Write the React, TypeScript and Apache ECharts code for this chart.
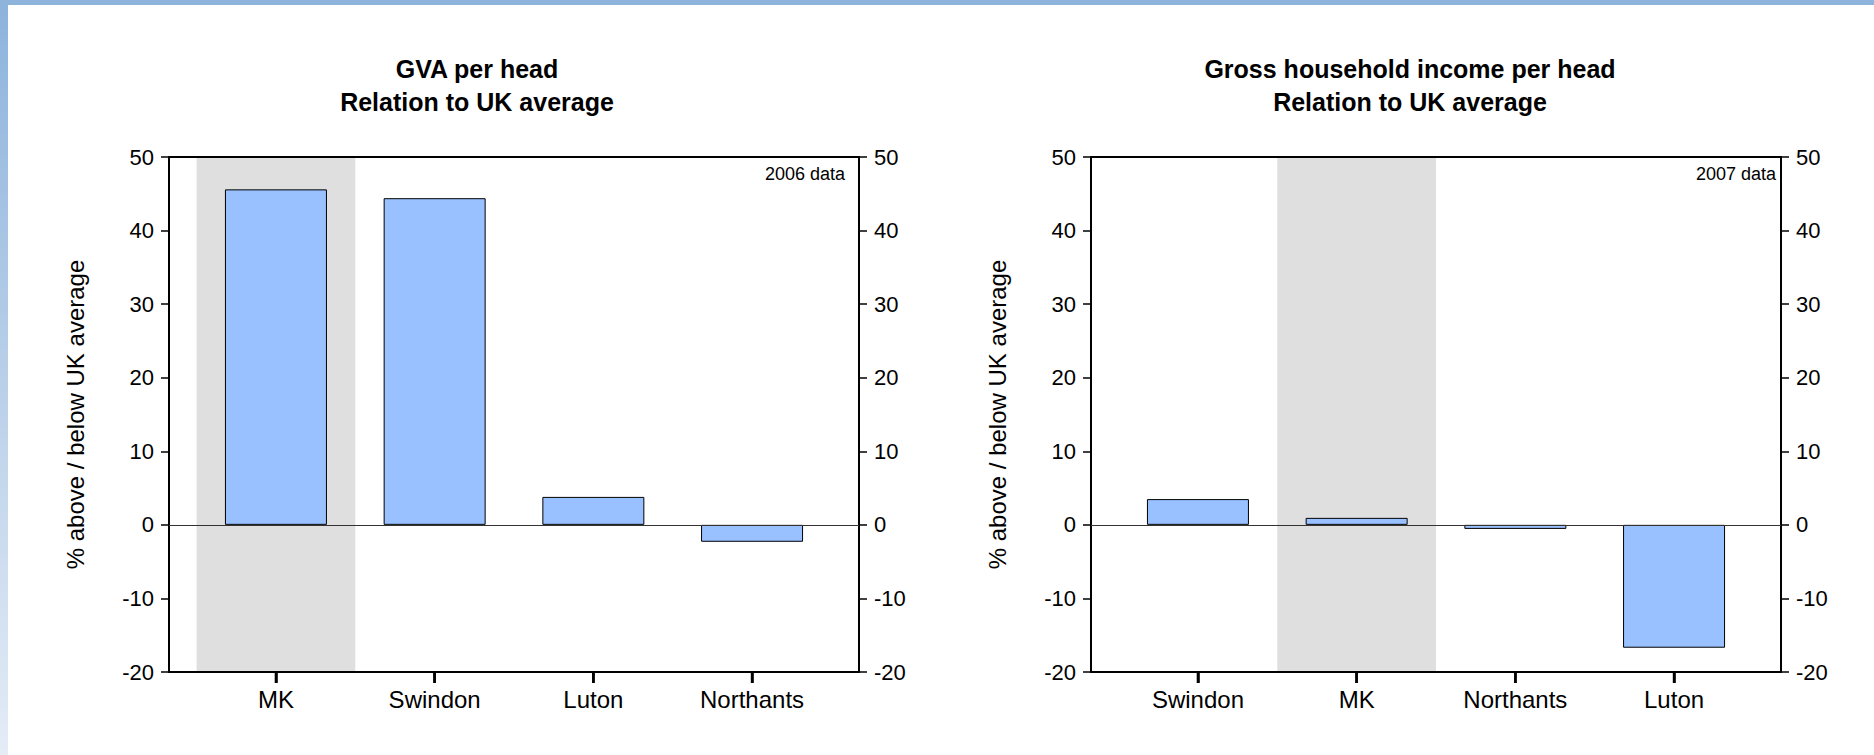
import React, { useEffect, useRef } from "react";
import * as echarts from "echarts";

// ---- data ----
const gvaCategories = ["MK", "Swindon", "Luton", "Northants"];
const gvaValues = [45.6, 44.4, 3.8, -2.3];
const gvaHighlight = "MK";
const gvaTitle = "GVA per head\nRelation to UK average";
const gvaNote = "2006 data";

const incomeCategories = ["Swindon", "MK", "Northants", "Luton"];
const incomeValues = [3.5, 0.95, -0.55, -16.7];
const incomeHighlight = "MK";
const incomeTitle = "Gross household income per head\nRelation to UK average";
const incomeNote = "2007 data";

const yMin = -20;
const yMax = 50;
const yInterval = 10;
const yName = "% above / below UK average";

const FONT = "Arial, 'Liberation Sans', Helvetica, sans-serif";
const BAR_COLOR = "#99c0ff";
const SHADE = "#dfdfdf";

type Panel = {
  frameLeft: number;
  categories: string[];
  values: number[];
  highlight: string;
};

const TOP = 157;
const BOTTOM_Y = 672;
const FRAME_W = 690;
const PAD = 27.6;
const TICK_LEN = 11;
const CAT_W = (FRAME_W - 2 * PAD) / 4;
const PAD_UNITS = PAD / CAT_W;

const panels: Panel[] = [
  { frameLeft: 169, categories: gvaCategories, values: gvaValues, highlight: gvaHighlight },
  { frameLeft: 1091, categories: incomeCategories, values: incomeValues, highlight: incomeHighlight },
];

function buildOption() {
  const grid: any[] = [];
  const xAxis: any[] = [];
  const yAxis: any[] = [];
  const series: any[] = [];

  panels.forEach((p, i) => {
    const n = p.categories.length;
    const idx = p.categories.map((_, k) => k);
    const gFrame = grid.length;
    grid.push({ left: p.frameLeft, top: TOP, width: FRAME_W, height: BOTTOM_Y - TOP, containLabel: false });
    const gData = grid.length;
    grid.push({ left: p.frameLeft + PAD, top: TOP, width: FRAME_W - 2 * PAD, height: BOTTOM_Y - TOP, containLabel: false });

    const frameLine = { show: true, onZero: false, lineStyle: { color: "#000", width: 2 } };

    const yBase = {
      type: "value", min: yMin, max: yMax, interval: yInterval,
      axisLine: frameLine,
      axisTick: { show: true, inside: false, length: 8, lineStyle: { color: "#000", width: 1.5 } },
      axisLabel: { color: "#000", fontSize: 22, fontFamily: FONT, margin: 15 },
      splitLine: { show: false },
    };
    const yLeft = yAxis.length;
    yAxis.push({
      ...yBase, gridIndex: gFrame, position: "left",
      name: yName, nameLocation: "middle", nameGap: 82,
      nameTextStyle: { color: "#000", fontSize: 24, fontFamily: FONT },
    });
    yAxis.push({ ...yBase, gridIndex: gFrame, position: "right" });
    const yData = yAxis.length;
    yAxis.push({
      gridIndex: gData, type: "value", min: yMin, max: yMax, interval: yInterval, show: false,
      splitLine: { show: false },
    });

    const xBottom = xAxis.length;
    xAxis.push({
      gridIndex: gFrame, type: "value", position: "bottom",
      min: -0.5 - PAD_UNITS, max: n - 0.5 + PAD_UNITS,
      axisLine: frameLine,
      axisTick: { show: true, inside: false, length: TICK_LEN, customValues: idx, lineStyle: { color: "#000", width: 2.5 } },
      axisLabel: {
        show: true, customValues: idx, color: "#000", fontSize: 24, fontFamily: FONT, margin: 15,
        formatter: (v: number) => {
          const k = Math.round(v);
          return Math.abs(v - k) < 1e-6 && k >= 0 && k < n ? p.categories[k] : "";
        },
      },
      splitLine: { show: false },
    });
    xAxis.push({
      gridIndex: gFrame, type: "value", min: 0, max: 1, position: "top",
      axisLine: frameLine, axisTick: { show: false }, axisLabel: { show: false }, splitLine: { show: false },
    });
    const xCat = xAxis.length;
    xAxis.push({
      gridIndex: gData, type: "category", data: p.categories, position: "bottom",
      axisLine: { show: false, onZero: false },
      axisTick: { show: false },
      axisLabel: { show: false },
      splitLine: { show: false },
      splitArea: {
        show: true, interval: 0,
        areaStyle: { color: p.categories.map((c) => (c === p.highlight ? SHADE : "rgba(255,255,255,0)")) },
      },
    });

    series.push({
      type: "line", xAxisIndex: xBottom, yAxisIndex: yLeft, data: [[0, 0]],
      showSymbol: false, symbolSize: 0, lineStyle: { width: 0, opacity: 0 }, silent: true,
      markLine: {
        silent: true, symbol: ["none", "none"], label: { show: false },
        lineStyle: { color: "#333", width: 1, type: "solid" },
        data: [{ yAxis: 0 }],
      },
      z: 3,
    });
    // category tick marks hanging below the frame, one per category position
    series.push({
      type: "scatter", xAxisIndex: xBottom, yAxisIndex: yLeft, clip: false, silent: true,
      data: idx.map((k) => [k, yMin]),
      symbol: "rect", symbolSize: [2.5, TICK_LEN], symbolOffset: [0, TICK_LEN / 2],
      itemStyle: { color: "#000", opacity: 1 },
      z: 10,
    });
    series.push({
      type: "bar", name: "panel" + i, xAxisIndex: xCat, yAxisIndex: yData,
      data: p.values, barWidth: 102,
      itemStyle: { color: BAR_COLOR, borderColor: "#000", borderWidth: 1 },
      z: 4,
    });
  });

  const graphic: any[] = [
    {
      type: "rect", shape: { x: 0, y: 0, width: 8, height: 755 }, silent: true,
      style: {
        fill: new echarts.graphic.LinearGradient(0, 0, 0, 1, [
          { offset: 0, color: "#8db3dc" },
          { offset: 1, color: "#e4ecf6" },
        ]),
      },
    },
    { type: "rect", shape: { x: 0, y: 0, width: 1874, height: 5 }, silent: true, style: { fill: "#8fb4dc" } },
    {
      type: "text", x: 477, y: 85, silent: true,
      style: { text: gvaTitle, textAlign: "center", textVerticalAlign: "middle", fontSize: 25, fontWeight: "bold", fontFamily: FONT, fill: "#000", lineHeight: 33 },
    },
    {
      type: "text", x: 1410, y: 85, silent: true,
      style: { text: incomeTitle, textAlign: "center", textVerticalAlign: "middle", fontSize: 25, fontWeight: "bold", fontFamily: FONT, fill: "#000", lineHeight: 33 },
    },
    {
      type: "text", x: 845, y: 174, silent: true,
      style: { text: gvaNote, textAlign: "right", textVerticalAlign: "middle", fontSize: 18, fontFamily: FONT, fill: "#000" },
    },
    {
      type: "text", x: 1776, y: 174, silent: true,
      style: { text: incomeNote, textAlign: "right", textVerticalAlign: "middle", fontSize: 18, fontFamily: FONT, fill: "#000" },
    },
  ];

  return {
    animation: false,
    backgroundColor: "#ffffff",
    textStyle: { fontFamily: FONT },
    grid, xAxis, yAxis, series, graphic,
  };
}

export default function App() {
  const ref = useRef<HTMLDivElement>(null);
  useEffect(() => {
    document.body.style.margin = "0";
    if (!ref.current) return;
    const chart = echarts.init(ref.current, undefined, { renderer: "svg" });
    chart.setOption(buildOption() as any);
    return () => chart.dispose();
  }, []);
  return <div ref={ref} style={{ width: 1874, height: 755 }} />;
}
